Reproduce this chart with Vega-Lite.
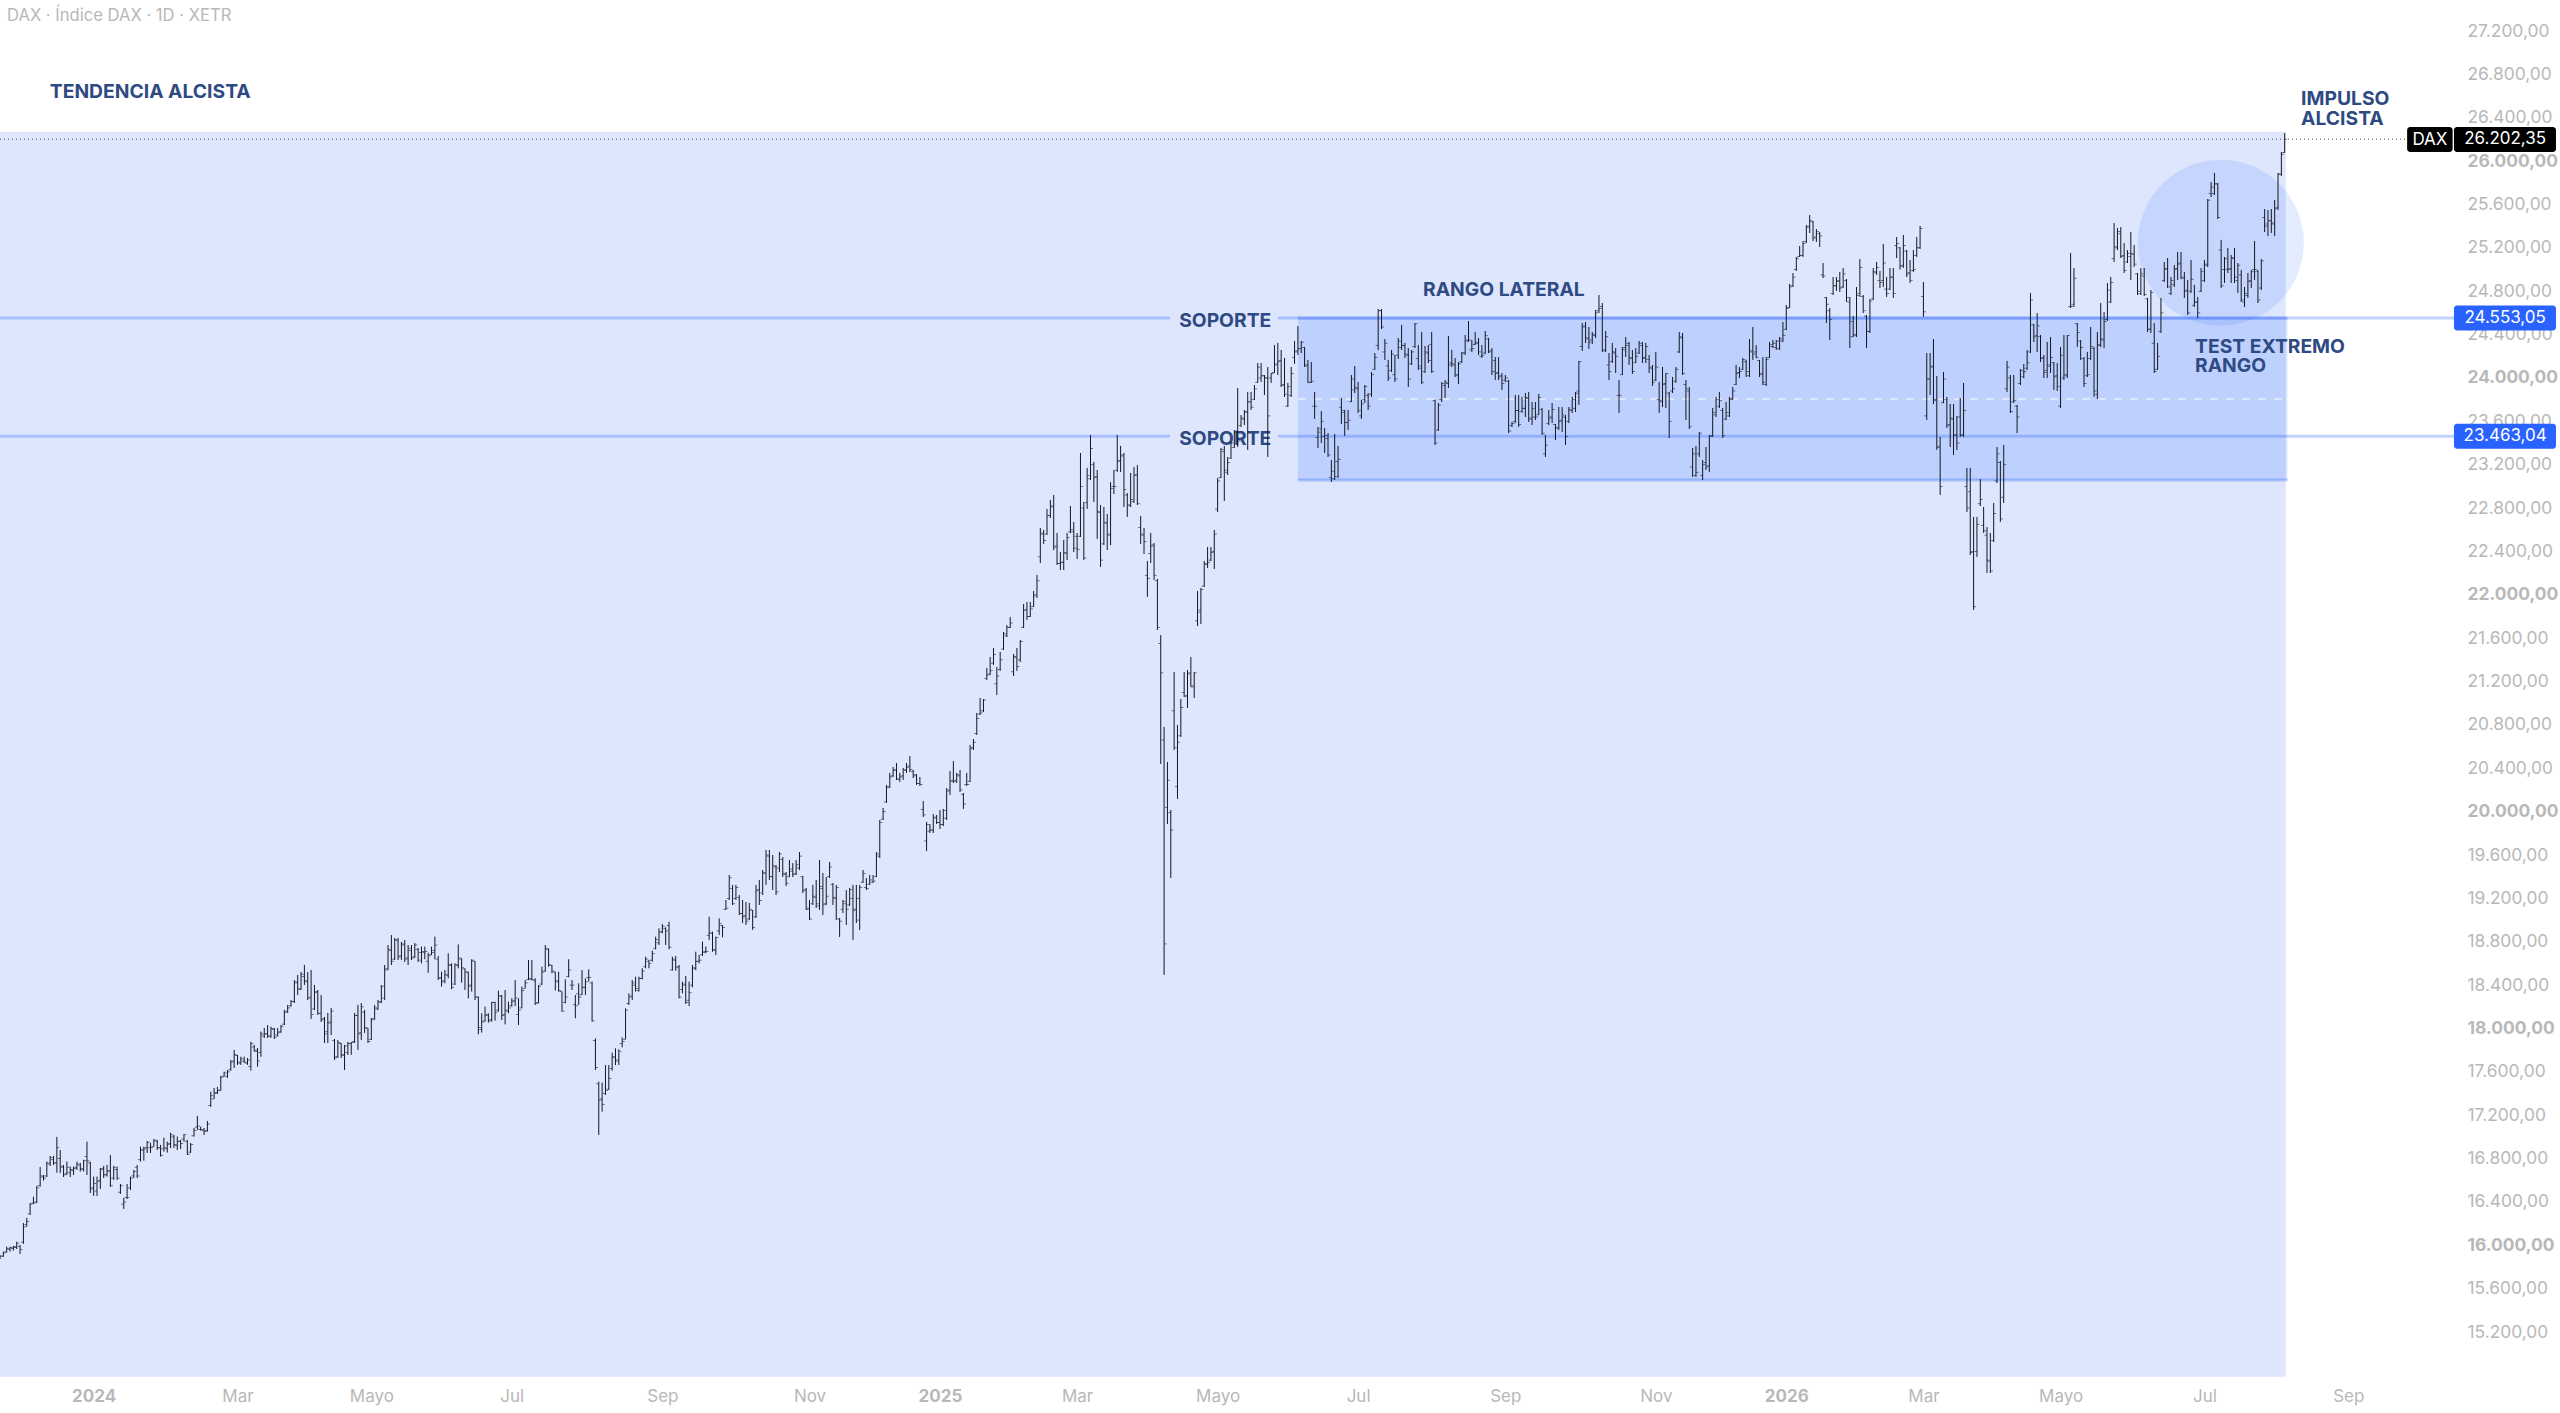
{"$schema":"https://vega.github.io/schema/vega-lite/v6.json","width":2560,"height":1375,"autosize":{"type":"none"},"padding":{"left":0,"top":0,"right":0,"bottom":38},"background":"#ffffff","config":{"view":{"stroke":null},"font":"Inter"},
"datasets":{
"zone":[{"i":-2,"i2":683.3,"p":14788,"p2":26270}],
"range":[{"i":388,"i2":683.8,"p":23059,"p2":24553}],
"borders":[{"i":388,"i2":683.8,"p":24553},{"i":388,"i2":683.8,"p":23059}],
"supports":[{"i":0,"i2":349.8,"p":24553},{"i":382,"i2":733.6,"p":24553},{"i":0,"i2":349.8,"p":23463},{"i":382,"i2":733.6,"p":23463}],
"mid":[{"i":388,"i2":683,"p":23806}],
"last":[{"i":0,"i2":719.6,"p":26202}],
"circle":[{"i":663.9,"p":25248}],
"notes":[{"i":14.9,"p":26637,"t":"TENDENCIA ALCISTA"},{"i":687.9,"p":26573,"t":"IMPULSO"},{"i":687.9,"p":26393,"t":"ALCISTA"},{"i":352.5,"p":24524,"t":"SOPORTE"},{"i":352.5,"p":23436,"t":"SOPORTE"},{"i":425.4,"p":24811,"t":"RANGO LATERAL"},{"i":656.2,"p":24286,"t":"TEST EXTREMO"},{"i":656.2,"p":24110,"t":"RANGO"}],
"head":[{"i":2.1,"p":27338,"t":"DAX · Índice DAX · 1D · XETR"}],
"blacktags":[{"i":719.6,"i2":733.2,"p":26084,"p2":26315},{"i":733.6,"i2":764.1,"p":26084,"p2":26315}],
"bluetags":[{"i":733.6,"i2":764.1,"p":24438,"p2":24668},{"i":733.6,"i2":764.1,"p":23348,"p2":23578}],
"tagtext":[{"i":726.4,"p":26195,"t":"DAX"},{"i":748.9,"p":26202,"t":"26.202,35"},{"i":748.9,"p":24553,"t":"24.553,05"},{"i":748.9,"p":23463,"t":"23.463,04"}],
"bars":[
{"i":0,"o":15880,"h":15911,"l":15874,"c":15900},{"i":1,"o":15900,"h":15942,"l":15893,"c":15930},{"i":2,"o":15940,"h":15988,"l":15932,"c":15970},{"i":3,"o":15960,"h":15988,"l":15942,"c":15980},{"i":4,"o":15970,"h":15994,"l":15951,"c":15990},{"i":5,"o":15980,"h":16034,"l":15966,"c":16020},{"i":6,"o":15990,"h":16003,"l":15920,"c":15960},{"i":7,"o":16030,"h":16206,"l":16013,"c":16170},{"i":8,"o":16190,"h":16253,"l":16172,"c":16220},{"i":9,"o":16290,"h":16390,"l":16280,"c":16380},{"i":10,"o":16390,"h":16449,"l":16382,"c":16390},{"i":11,"o":16400,"h":16548,"l":16390,"c":16530},{"i":12,"o":16550,"h":16722,"l":16541,"c":16640},{"i":13,"o":16630,"h":16649,"l":16597,"c":16620},{"i":14,"o":16640,"h":16772,"l":16630,"c":16760},{"i":15,"o":16750,"h":16824,"l":16732,"c":16810},{"i":16,"o":16790,"h":16824,"l":16741,"c":16760},{"i":17,"o":16760,"h":17000,"l":16670,"c":16900},{"i":18,"o":16800,"h":16879,"l":16667,"c":16730},{"i":19,"o":16720,"h":16741,"l":16630,"c":16650},{"i":20,"o":16660,"h":16772,"l":16649,"c":16720},{"i":21,"o":16670,"h":16726,"l":16630,"c":16700},{"i":22,"o":16690,"h":16726,"l":16649,"c":16710},{"i":23,"o":16720,"h":16772,"l":16695,"c":16750},{"i":24,"o":16740,"h":16760,"l":16680,"c":16710},{"i":25,"o":16700,"h":16788,"l":16680,"c":16780},{"i":26,"o":16820,"h":16956,"l":16649,"c":16780},{"i":27,"o":16760,"h":16772,"l":16483,"c":16520},{"i":28,"o":16530,"h":16634,"l":16456,"c":16570},{"i":29,"o":16500,"h":16634,"l":16456,"c":16590},{"i":30,"o":16600,"h":16713,"l":16520,"c":16700},{"i":31,"o":16710,"h":16732,"l":16621,"c":16650},{"i":32,"o":16650,"h":16741,"l":16634,"c":16680},{"i":33,"o":16690,"h":16833,"l":16539,"c":16550},{"i":34,"o":16620,"h":16732,"l":16603,"c":16720},{"i":35,"o":16700,"h":16726,"l":16603,"c":16620},{"i":36,"o":16490,"h":16566,"l":16474,"c":16550},{"i":37,"o":16380,"h":16437,"l":16335,"c":16400},{"i":38,"o":16440,"h":16566,"l":16428,"c":16440},{"i":39,"o":16530,"h":16634,"l":16510,"c":16620},{"i":40,"o":16640,"h":16695,"l":16621,"c":16680},{"i":41,"o":16720,"h":16741,"l":16621,"c":16640},{"i":42,"o":16790,"h":16910,"l":16772,"c":16880},{"i":43,"o":16880,"h":16910,"l":16781,"c":16890},{"i":44,"o":16900,"h":16963,"l":16852,"c":16950},{"i":45,"o":16900,"h":16944,"l":16852,"c":16900},{"i":46,"o":16910,"h":16981,"l":16910,"c":16970},{"i":47,"o":16960,"h":16972,"l":16879,"c":16900},{"i":48,"o":16900,"h":16926,"l":16818,"c":16830},{"i":49,"o":16890,"h":16993,"l":16864,"c":16900},{"i":50,"o":16890,"h":16956,"l":16855,"c":16930},{"i":51,"o":16940,"h":17039,"l":16898,"c":17020},{"i":52,"o":17000,"h":17018,"l":16898,"c":16930},{"i":53,"o":16920,"h":17003,"l":16879,"c":16960},{"i":54,"o":16960,"h":16972,"l":16889,"c":16940},{"i":55,"o":16980,"h":17027,"l":16956,"c":17020},{"i":56,"o":16960,"h":16972,"l":16833,"c":16840},{"i":57,"o":16860,"h":16944,"l":16852,"c":16930},{"i":58,"o":17010,"h":17082,"l":17003,"c":17060},{"i":59,"o":17090,"h":17193,"l":17064,"c":17100},{"i":60,"o":17070,"h":17095,"l":17058,"c":17070},{"i":61,"o":17060,"h":17082,"l":17018,"c":17050},{"i":62,"o":17060,"h":17147,"l":17049,"c":17120},{"i":63,"o":17290,"h":17417,"l":17276,"c":17380},{"i":64,"o":17350,"h":17452,"l":17350,"c":17400},{"i":65,"o":17410,"h":17461,"l":17396,"c":17430},{"i":66,"o":17430,"h":17562,"l":17427,"c":17550},{"i":67,"o":17560,"h":17602,"l":17556,"c":17590},{"i":68,"o":17560,"h":17617,"l":17544,"c":17600},{"i":69,"o":17620,"h":17710,"l":17611,"c":17690},{"i":70,"o":17700,"h":17802,"l":17636,"c":17760},{"i":71,"o":17750,"h":17756,"l":17664,"c":17690},{"i":72,"o":17680,"h":17740,"l":17664,"c":17720},{"i":73,"o":17700,"h":17740,"l":17682,"c":17690},{"i":74,"o":17680,"h":17728,"l":17664,"c":17710},{"i":75,"o":17650,"h":17878,"l":17611,"c":17860},{"i":76,"o":17830,"h":17848,"l":17786,"c":17800},{"i":77,"o":17790,"h":17820,"l":17648,"c":17700},{"i":78,"o":17780,"h":17971,"l":17740,"c":17950},{"i":79,"o":17930,"h":18005,"l":17913,"c":17950},{"i":80,"o":17950,"h":18032,"l":17913,"c":17930},{"i":81,"o":17930,"h":18017,"l":17913,"c":18000},{"i":82,"o":17990,"h":18005,"l":17903,"c":17920},{"i":83,"o":17940,"h":18005,"l":17925,"c":17960},{"i":84,"o":17970,"h":18032,"l":17959,"c":18020},{"i":85,"o":18040,"h":18171,"l":18032,"c":18150},{"i":86,"o":18160,"h":18217,"l":18143,"c":18190},{"i":87,"o":18210,"h":18263,"l":18201,"c":18250},{"i":88,"o":18250,"h":18447,"l":18235,"c":18430},{"i":89,"o":18420,"h":18494,"l":18309,"c":18370},{"i":90,"o":18360,"h":18521,"l":18355,"c":18500},{"i":91,"o":18480,"h":18586,"l":18401,"c":18440},{"i":92,"o":18430,"h":18521,"l":18263,"c":18280},{"i":93,"o":18290,"h":18540,"l":18088,"c":18130},{"i":94,"o":18180,"h":18401,"l":18171,"c":18330},{"i":95,"o":18340,"h":18355,"l":18125,"c":18140},{"i":96,"o":18140,"h":18309,"l":18060,"c":18080},{"i":97,"o":18090,"h":18106,"l":17866,"c":17950},{"i":98,"o":17970,"h":18143,"l":17866,"c":18050},{"i":99,"o":18060,"h":18189,"l":17940,"c":18160},{"i":100,"o":17890,"h":17903,"l":17710,"c":17730},{"i":101,"o":17740,"h":17894,"l":17728,"c":17870},{"i":102,"o":17860,"h":17866,"l":17728,"c":17750},{"i":103,"o":17760,"h":17848,"l":17617,"c":17840},{"i":104,"o":17780,"h":17876,"l":17756,"c":17860},{"i":105,"o":17860,"h":17876,"l":17756,"c":17870},{"i":106,"o":17880,"h":18143,"l":17866,"c":18120},{"i":107,"o":18120,"h":18217,"l":17802,"c":17950},{"i":108,"o":17960,"h":18235,"l":17894,"c":18200},{"i":109,"o":18150,"h":18171,"l":17959,"c":18010},{"i":110,"o":18000,"h":18005,"l":17866,"c":17880},{"i":111,"o":17900,"h":18097,"l":17894,"c":18080},{"i":112,"o":18090,"h":18217,"l":18080,"c":18190},{"i":113,"o":18180,"h":18263,"l":18171,"c":18250},{"i":114,"o":18240,"h":18401,"l":18235,"c":18390},{"i":115,"o":18280,"h":18586,"l":18263,"c":18550},{"i":116,"o":18540,"h":18770,"l":18540,"c":18730},{"i":117,"o":18720,"h":18862,"l":18586,"c":18620},{"i":118,"o":18640,"h":18835,"l":18632,"c":18820},{"i":119,"o":18810,"h":18835,"l":18632,"c":18660},{"i":120,"o":18670,"h":18798,"l":18632,"c":18780},{"i":121,"o":18770,"h":18816,"l":18613,"c":18640},{"i":122,"o":18650,"h":18770,"l":18586,"c":18740},{"i":123,"o":18720,"h":18770,"l":18632,"c":18650},{"i":124,"o":18660,"h":18788,"l":18650,"c":18770},{"i":125,"o":18730,"h":18743,"l":18613,"c":18630},
{"i":126,"o":18700,"h":18755,"l":18600,"c":18710},{"i":127,"o":18700,"h":18755,"l":18638,"c":18710},{"i":128,"o":18620,"h":18699,"l":18515,"c":18670},{"i":129,"o":18680,"h":18755,"l":18678,"c":18700},{"i":130,"o":18720,"h":18847,"l":18638,"c":18770},{"i":131,"o":18640,"h":18669,"l":18447,"c":18460},{"i":132,"o":18470,"h":18524,"l":18386,"c":18430},{"i":133,"o":18440,"h":18540,"l":18417,"c":18500},{"i":134,"o":18490,"h":18693,"l":18463,"c":18590},{"i":135,"o":18580,"h":18601,"l":18361,"c":18380},{"i":136,"o":18410,"h":18601,"l":18401,"c":18590},{"i":137,"o":18580,"h":18776,"l":18555,"c":18650},{"i":138,"o":18640,"h":18647,"l":18423,"c":18560},{"i":139,"o":18550,"h":18555,"l":18355,"c":18520},{"i":140,"o":18520,"h":18524,"l":18278,"c":18390},{"i":141,"o":18400,"h":18638,"l":18340,"c":18630},{"i":142,"o":18620,"h":18622,"l":18263,"c":18290},{"i":143,"o":18290,"h":18294,"l":17946,"c":18010},{"i":144,"o":17990,"h":18140,"l":17962,"c":18060},{"i":145,"o":18070,"h":18201,"l":18063,"c":18120},{"i":146,"o":18130,"h":18140,"l":18054,"c":18070},{"i":147,"o":18080,"h":18247,"l":18063,"c":18240},{"i":148,"o":18240,"h":18247,"l":18072,"c":18150},{"i":149,"o":18170,"h":18349,"l":18155,"c":18300},{"i":150,"o":18300,"h":18309,"l":18078,"c":18120},{"i":151,"o":18130,"h":18355,"l":18038,"c":18170},{"i":152,"o":18160,"h":18247,"l":18140,"c":18190},{"i":153,"o":18210,"h":18278,"l":18201,"c":18250},{"i":154,"o":18260,"h":18447,"l":18207,"c":18280},{"i":155,"o":18130,"h":18278,"l":18032,"c":18170},{"i":156,"o":18190,"h":18386,"l":18186,"c":18350},{"i":157,"o":18370,"h":18447,"l":18370,"c":18420},{"i":158,"o":18450,"h":18632,"l":18447,"c":18460},{"i":159,"o":18450,"h":18632,"l":18447,"c":18450},{"i":160,"o":18440,"h":18463,"l":18217,"c":18230},{"i":161,"o":18240,"h":18401,"l":18232,"c":18390},{"i":162,"o":18410,"h":18570,"l":18401,"c":18520},{"i":163,"o":18530,"h":18770,"l":18524,"c":18740},{"i":164,"o":18730,"h":18739,"l":18570,"c":18590},{"i":165,"o":18580,"h":18586,"l":18509,"c":18530},{"i":166,"o":18520,"h":18524,"l":18349,"c":18440},{"i":167,"o":18430,"h":18524,"l":18340,"c":18350},{"i":168,"o":18340,"h":18340,"l":18155,"c":18160},{"i":169,"o":18240,"h":18453,"l":18232,"c":18290},{"i":170,"o":18480,"h":18638,"l":18472,"c":18540},{"i":171,"o":18400,"h":18447,"l":18355,"c":18400},{"i":172,"o":18220,"h":18309,"l":18094,"c":18210},{"i":173,"o":18320,"h":18417,"l":18217,"c":18290},{"i":174,"o":18310,"h":18539,"l":18309,"c":18380},{"i":175,"o":18380,"h":18463,"l":18309,"c":18430},{"i":176,"o":18470,"h":18546,"l":18432,"c":18470},{"i":177,"o":18420,"h":18432,"l":18063,"c":18070},
{"i":178,"o":17890,"h":17909,"l":17617,"c":17640},{"i":179,"o":17490,"h":17510,"l":17018,"c":17340},{"i":180,"o":17350,"h":17500,"l":17233,"c":17300},{"i":181,"o":17400,"h":17663,"l":17387,"c":17430},{"i":182,"o":17440,"h":17663,"l":17433,"c":17540},{"i":183,"o":17630,"h":17777,"l":17611,"c":17740},{"i":184,"o":17730,"h":17817,"l":17663,"c":17700},{"i":185,"o":17710,"h":17808,"l":17663,"c":17790},{"i":186,"o":17860,"h":17919,"l":17826,"c":17880},{"i":187,"o":17900,"h":18186,"l":17900,"c":18170},{"i":188,"o":18230,"h":18324,"l":18217,"c":18290},{"i":189,"o":18300,"h":18447,"l":18263,"c":18420},{"i":190,"o":18400,"h":18478,"l":18340,"c":18370},{"i":191,"o":18350,"h":18478,"l":18340,"c":18460},{"i":192,"o":18460,"h":18555,"l":18453,"c":18530},{"i":193,"o":18570,"h":18662,"l":18555,"c":18640},{"i":194,"o":18620,"h":18632,"l":18555,"c":18600},{"i":195,"o":18630,"h":18718,"l":18616,"c":18690},{"i":196,"o":18740,"h":18847,"l":18730,"c":18820},{"i":197,"o":18790,"h":18924,"l":18770,"c":18890},{"i":198,"o":18890,"h":18964,"l":18878,"c":18940},{"i":199,"o":18920,"h":18933,"l":18770,"c":18900},{"i":200,"o":18950,"h":18985,"l":18730,"c":18750},{"i":201,"o":18540,"h":18662,"l":18533,"c":18640},{"i":202,"o":18630,"h":18669,"l":18533,"c":18560},{"i":203,"o":18570,"h":18586,"l":18278,"c":18290},{"i":204,"o":18360,"h":18432,"l":18324,"c":18410},{"i":205,"o":18400,"h":18484,"l":18226,"c":18240},{"i":206,"o":18260,"h":18432,"l":18207,"c":18330},{"i":207,"o":18400,"h":18586,"l":18380,"c":18560},{"i":208,"o":18550,"h":18708,"l":18539,"c":18620},{"i":209,"o":18620,"h":18678,"l":18601,"c":18630},{"i":210,"o":18680,"h":18801,"l":18669,"c":18700},{"i":211,"o":18710,"h":18755,"l":18693,"c":18710},{"i":212,"o":18860,"h":19031,"l":18816,"c":18880},{"i":213,"o":18880,"h":18893,"l":18708,"c":18730},{"i":214,"o":18720,"h":18847,"l":18678,"c":18840},{"i":215,"o":18900,"h":19016,"l":18862,"c":18970},{"i":216,"o":18950,"h":18954,"l":18841,"c":18930},{"i":217,"o":19100,"h":19185,"l":19093,"c":19110},
{"i":218,"o":19200,"h":19416,"l":19185,"c":19390},{"i":219,"o":19290,"h":19324,"l":19139,"c":19150},{"i":220,"o":19200,"h":19324,"l":19185,"c":19300},{"i":221,"o":19210,"h":19231,"l":19047,"c":19060},{"i":222,"o":19060,"h":19185,"l":18973,"c":19030},{"i":223,"o":19040,"h":19167,"l":18955,"c":18990},{"i":224,"o":19010,"h":19158,"l":19001,"c":19100},{"i":225,"o":19090,"h":19093,"l":18909,"c":18930},{"i":226,"o":19030,"h":19324,"l":19019,"c":19270},{"i":227,"o":19280,"h":19370,"l":19139,"c":19180},{"i":228,"o":19250,"h":19462,"l":19231,"c":19440},{"i":229,"o":19430,"h":19647,"l":19324,"c":19600},{"i":230,"o":19590,"h":19647,"l":19370,"c":19400},{"i":231,"o":19400,"h":19600,"l":19277,"c":19500},{"i":232,"o":19490,"h":19508,"l":19231,"c":19260},{"i":233,"o":19480,"h":19628,"l":19443,"c":19610},{"i":234,"o":19560,"h":19582,"l":19397,"c":19430},{"i":235,"o":19420,"h":19443,"l":19314,"c":19340},{"i":236,"o":19400,"h":19554,"l":19397,"c":19470},{"i":237,"o":19450,"h":19526,"l":19397,"c":19420},{"i":238,"o":19430,"h":19554,"l":19416,"c":19510},{"i":239,"o":19480,"h":19628,"l":19462,"c":19590},{"i":240,"o":19400,"h":19407,"l":19250,"c":19270},{"i":241,"o":19280,"h":19296,"l":19093,"c":19100},{"i":242,"o":19110,"h":19185,"l":19001,"c":19010},{"i":243,"o":19150,"h":19324,"l":19139,"c":19220},{"i":244,"o":19210,"h":19370,"l":19112,"c":19150},{"i":245,"o":19130,"h":19554,"l":19093,"c":19310},{"i":246,"o":19290,"h":19434,"l":19047,"c":19140},{"i":247,"o":19150,"h":19397,"l":19139,"c":19220},{"i":248,"o":19400,"h":19536,"l":19388,"c":19490},{"i":249,"o":19330,"h":19342,"l":19139,"c":19210},{"i":250,"o":19200,"h":19324,"l":19001,"c":19300},{"i":251,"o":19010,"h":19019,"l":18844,"c":18990},{"i":252,"o":19100,"h":19185,"l":19065,"c":19170},{"i":253,"o":19150,"h":19277,"l":18955,"c":19100},{"i":254,"o":19140,"h":19296,"l":19130,"c":19280},{"i":255,"o":19200,"h":19324,"l":18816,"c":19090},{"i":256,"o":19100,"h":19324,"l":18973,"c":19200},{"i":257,"o":19000,"h":19324,"l":18909,"c":19300},{"i":258,"o":19350,"h":19462,"l":19342,"c":19430},{"i":259,"o":19300,"h":19388,"l":19277,"c":19290},{"i":260,"o":19330,"h":19416,"l":19324,"c":19370},{"i":261,"o":19350,"h":19416,"l":19342,"c":19360},{"i":262,"o":19400,"h":19628,"l":19397,"c":19610},{"i":263,"o":19590,"h":19923,"l":19573,"c":19900},{"i":264,"o":19930,"h":20034,"l":19923,"c":20000},{"i":265,"o":20090,"h":20246,"l":20080,"c":20220},{"i":266,"o":20230,"h":20357,"l":20218,"c":20320},{"i":267,"o":20330,"h":20412,"l":20320,"c":20380},{"i":268,"o":20390,"h":20449,"l":20292,"c":20300},{"i":269,"o":20300,"h":20357,"l":20274,"c":20320},{"i":270,"o":20330,"h":20403,"l":20292,"c":20390},{"i":271,"o":20380,"h":20449,"l":20357,"c":20410},{"i":272,"o":20420,"h":20513,"l":20366,"c":20390},{"i":273,"o":20370,"h":20384,"l":20310,"c":20330},{"i":274,"o":20340,"h":20347,"l":20246,"c":20260},{"i":275,"o":20260,"h":20320,"l":20237,"c":20250},{"i":276,"o":20020,"h":20098,"l":19951,"c":19970},{"i":277,"o":19730,"h":19905,"l":19637,"c":19880},{"i":278,"o":19820,"h":19886,"l":19803,"c":19830},{"i":279,"o":19830,"h":19978,"l":19803,"c":19950},{"i":280,"o":19940,"h":19969,"l":19886,"c":19900},{"i":281,"o":19900,"h":20015,"l":19840,"c":19880},{"i":282,"o":19880,"h":20025,"l":19868,"c":20010},{"i":283,"o":19940,"h":20218,"l":19923,"c":20190},{"i":284,"o":20200,"h":20375,"l":20154,"c":20280},{"i":285,"o":20290,"h":20467,"l":20264,"c":20280},{"i":286,"o":20290,"h":20357,"l":20264,"c":20340},{"i":287,"o":20330,"h":20384,"l":20181,"c":20200},{"i":288,"o":20160,"h":20172,"l":20025,"c":20070},{"i":289,"o":20250,"h":20357,"l":20237,"c":20250},{"i":290,"o":20280,"h":20615,"l":20274,"c":20580},{"i":291,"o":20590,"h":20670,"l":20569,"c":20640},{"i":292,"o":20720,"h":20910,"l":20707,"c":20860},{"i":293,"o":20900,"h":21048,"l":20891,"c":20910},{"i":294,"o":20930,"h":21039,"l":20919,"c":21030},{"i":295,"o":21230,"h":21325,"l":21214,"c":21260},{"i":296,"o":21270,"h":21426,"l":21260,"c":21300},{"i":297,"o":21370,"h":21509,"l":21353,"c":21450},{"i":298,"o":21180,"h":21334,"l":21076,"c":21250},{"i":299,"o":21310,"h":21473,"l":21298,"c":21400},{"i":300,"o":21500,"h":21657,"l":21491,"c":21640},{"i":301,"o":21620,"h":21722,"l":21611,"c":21700},{"i":302,"o":21700,"h":21795,"l":21694,"c":21740},{"i":303,"o":21290,"h":21454,"l":21251,"c":21430},{"i":304,"o":21420,"h":21509,"l":21298,"c":21340},{"i":305,"o":21400,"h":21583,"l":21380,"c":21570},{"i":306,"o":21700,"h":21915,"l":21694,"c":21860},{"i":307,"o":21860,"h":21934,"l":21768,"c":21800},{"i":308,"o":21800,"h":21934,"l":21795,"c":21870},{"i":309,"o":21890,"h":22035,"l":21888,"c":21990},{"i":310,"o":22000,"h":22183,"l":21971,"c":22130},{"i":311,"o":22350,"h":22616,"l":22293,"c":22570},{"i":312,"o":22560,"h":22598,"l":22469,"c":22500},{"i":313,"o":22560,"h":22792,"l":22552,"c":22730},{"i":314,"o":22730,"h":22875,"l":22708,"c":22810},{"i":315,"o":22820,"h":22921,"l":22413,"c":22440},{"i":316,"o":22450,"h":22570,"l":22275,"c":22290},{"i":317,"o":22290,"h":22395,"l":22229,"c":22300},{"i":318,"o":22300,"h":22506,"l":22229,"c":22390},{"i":319,"o":22380,"h":22570,"l":22321,"c":22530},{"i":320,"o":22580,"h":22819,"l":22570,"c":22600},{"i":321,"o":22580,"h":22672,"l":22395,"c":22430},{"i":322,"o":22540,"h":22570,"l":22330,"c":22420},{"i":323,"o":22540,"h":23308,"l":22533,"c":23000},{"i":324,"o":22800,"h":22856,"l":22321,"c":22340},{"i":325,"o":22850,"h":23170,"l":22792,"c":23100},{"i":326,"o":23070,"h":23474,"l":23059,"c":23350},{"i":327,"o":23200,"h":23225,"l":22856,"c":23080},{"i":328,"o":23090,"h":23151,"l":22515,"c":22770},{"i":329,"o":22760,"h":22828,"l":22257,"c":22320},{"i":330,"o":22470,"h":22810,"l":22459,"c":22670},{"i":331,"o":22660,"h":22745,"l":22413,"c":22560},{"i":332,"o":22550,"h":23040,"l":22459,"c":22980},{"i":333,"o":23000,"h":23151,"l":22930,"c":23000},{"i":334,"o":23150,"h":23474,"l":23133,"c":23230},{"i":335,"o":23240,"h":23373,"l":23133,"c":23280},{"i":336,"o":23290,"h":23308,"l":22810,"c":22970},{"i":337,"o":22920,"h":22939,"l":22718,"c":22830},{"i":338,"o":22820,"h":23124,"l":22810,"c":22880},{"i":339,"o":22860,"h":23179,"l":22847,"c":23100},{"i":340,"o":23110,"h":23197,"l":22828,"c":22840},{"i":341,"o":22620,"h":22727,"l":22469,"c":22560},{"i":342,"o":22550,"h":22616,"l":22377,"c":22490},{"i":343,"o":22180,"h":22312,"l":21980,"c":22150},{"i":344,"o":22380,"h":22570,"l":22293,"c":22450},{"i":345,"o":22460,"h":22478,"l":22137,"c":22180},{"i":346,"o":22130,"h":22146,"l":21676,"c":21700},{"i":347,"o":21550,"h":21629,"l":20440,"c":21280},{"i":348,"o":20660,"h":20781,"l":18494,"c":18780},{"i":349,"o":20040,"h":20458,"l":19886,"c":20290},{"i":350,"o":19990,"h":20015,"l":19388,"c":19830},{"i":351,"o":20930,"h":21288,"l":20569,"c":20590},{"i":352,"o":20230,"h":20799,"l":20117,"c":20640},{"i":353,"o":20700,"h":21039,"l":20689,"c":20960},{"i":354,"o":21100,"h":21288,"l":21058,"c":21060},{"i":355,"o":21070,"h":21306,"l":20956,"c":21270},{"i":356,"o":21280,"h":21426,"l":21150,"c":21150},{"i":357,"o":21160,"h":21288,"l":21048,"c":21280},{"i":358,"o":21760,"h":22035,"l":21712,"c":21840},{"i":359,"o":21860,"h":22063,"l":21731,"c":22050},{"i":360,"o":22080,"h":22312,"l":22072,"c":22290},{"i":361,"o":22280,"h":22441,"l":22247,"c":22300},{"i":362,"o":22320,"h":22441,"l":22312,"c":22390},{"i":363,"o":22400,"h":22598,"l":22238,"c":22560},{"i":364,"o":22790,"h":23077,"l":22764,"c":23050},{"i":365,"o":23080,"h":23354,"l":23077,"c":23340},{"i":366,"o":23320,"h":23373,"l":22865,"c":23150},{"i":367,"o":23130,"h":23271,"l":23105,"c":23220},{"i":368,"o":23260,"h":23409,"l":23253,"c":23400},{"i":369,"o":23360,"h":23520,"l":23354,"c":23510},{"i":370,"o":23500,"h":23907,"l":23363,"c":23420},{"i":371,"o":23560,"h":23658,"l":23548,"c":23630},{"i":372,"o":23620,"h":23705,"l":23566,"c":23690},{"i":373,"o":23680,"h":23871,"l":23336,"c":23780},{"i":374,"o":23780,"h":23871,"l":23705,"c":23730},{"i":375,"o":23800,"h":23935,"l":23797,"c":23900},{"i":376,"o":23960,"h":24138,"l":23954,"c":24100},{"i":377,"o":24000,"h":24138,"l":23963,"c":24020},{"i":378,"o":24020,"h":24027,"l":23843,"c":24000},{"i":379,"o":24000,"h":24101,"l":23271,"c":23650},{"i":380,"o":24000,"h":24046,"l":23954,"c":24040},{"i":381,"o":24050,"h":24304,"l":24046,"c":24120},{"i":382,"o":24130,"h":24323,"l":24027,"c":24150},{"i":383,"o":24160,"h":24258,"l":23917,"c":23930},{"i":384,"o":23940,"h":24184,"l":23825,"c":23850},{"i":385,"o":23740,"h":23954,"l":23732,"c":23920},{"i":386,"o":23840,"h":24101,"l":23825,"c":24040},{"i":387,"o":24190,"h":24341,"l":24129,"c":24240},{"i":388,"o":24250,"h":24479,"l":24212,"c":24270},{"i":389,"o":24270,"h":24341,"l":24230,"c":24330},{"i":390,"o":24280,"h":24286,"l":24101,"c":24120},{"i":391,"o":24110,"h":24166,"l":23954,"c":23960},{"i":392,"o":23960,"h":24147,"l":23954,"c":23970},{"i":393,"o":23740,"h":23871,"l":23622,"c":23740},{"i":394,"o":23450,"h":23548,"l":23354,"c":23500},{"i":395,"o":23530,"h":23695,"l":23400,"c":23600},{"i":396,"o":23460,"h":23539,"l":23308,"c":23470},{"i":397,"o":23440,"h":23492,"l":23271,"c":23290},{"i":398,"o":23080,"h":23243,"l":23040,"c":23140},{"i":399,"o":23070,"h":23483,"l":23059,"c":23090},{"i":400,"o":23230,"h":23373,"l":23077,"c":23250},{"i":401,"o":23730,"h":23815,"l":23575,"c":23680},{"i":402,"o":23700,"h":23705,"l":23465,"c":23590},{"i":403,"o":23590,"h":23705,"l":23520,"c":23610},{"i":404,"o":23780,"h":24027,"l":23778,"c":23990},{"i":405,"o":23890,"h":24110,"l":23861,"c":23910},{"i":406,"o":23900,"h":23963,"l":23677,"c":23700},{"i":407,"o":23650,"h":23797,"l":23622,"c":23760},{"i":408,"o":23800,"h":23935,"l":23769,"c":23920},{"i":409,"o":23840,"h":23861,"l":23705,"c":23740},{"i":410,"o":23850,"h":24055,"l":23825,"c":24030},{"i":411,"o":24080,"h":24230,"l":24074,"c":24190},{"i":412,"o":24300,"h":24636,"l":24258,"c":24620},{"i":413,"o":24620,"h":24636,"l":24452,"c":24470},{"i":414,"o":24240,"h":24359,"l":24166,"c":24320},{"i":415,"o":24110,"h":24166,"l":23972,"c":24000},{"i":416,"o":24070,"h":24258,"l":24055,"c":24220},{"i":417,"o":24030,"h":24212,"l":23963,"c":23990},{"i":418,"o":24210,"h":24369,"l":24175,"c":24340},{"i":419,"o":24280,"h":24489,"l":24258,"c":24300},{"i":420,"o":24300,"h":24323,"l":24184,"c":24220},{"i":421,"o":24210,"h":24276,"l":23917,"c":23990},{"i":422,"o":24130,"h":24258,"l":24120,"c":24240},{"i":423,"o":24290,"h":24507,"l":24276,"c":24500},{"i":424,"o":24180,"h":24304,"l":24074,"c":24090},{"i":425,"o":24110,"h":24424,"l":23944,"c":23960},{"i":426,"o":24060,"h":24295,"l":24046,"c":24240},{"i":427,"o":24230,"h":24304,"l":24138,"c":24160},{"i":428,"o":24310,"h":24424,"l":24046,"c":24060},{"i":429,"o":23790,"h":23797,"l":23382,"c":23400},{"i":430,"o":23520,"h":23769,"l":23511,"c":23750},{"i":431,"o":23800,"h":23963,"l":23778,"c":23950},{"i":432,"o":23930,"h":23981,"l":23815,"c":23960},{"i":433,"o":23950,"h":24387,"l":23907,"c":24120},{"i":434,"o":24140,"h":24258,"l":24101,"c":24130},{"i":435,"o":24120,"h":24184,"l":24009,"c":24020},{"i":436,"o":24030,"h":24147,"l":23944,"c":24130},{"i":437,"o":24150,"h":24239,"l":24138,"c":24230},{"i":438,"o":24230,"h":24396,"l":24212,"c":24340},{"i":439,"o":24350,"h":24525,"l":24332,"c":24350},{"i":440,"o":24260,"h":24350,"l":24239,"c":24270},{"i":441,"o":24310,"h":24424,"l":24304,"c":24320},{"i":442,"o":24330,"h":24369,"l":24212,"c":24240},{"i":443,"o":24200,"h":24304,"l":24184,"c":24210},{"i":444,"o":24230,"h":24433,"l":24221,"c":24390},{"i":445,"o":24360,"h":24369,"l":24230,"c":24240},{"i":446,"o":24250,"h":24276,"l":24027,"c":24060},{"i":447,"o":24160,"h":24193,"l":23981,"c":24040},{"i":448,"o":24050,"h":24193,"l":23981,"c":24010},{"i":449,"o":24020,"h":24046,"l":23889,"c":23950},{"i":450,"o":23980,"h":24027,"l":23963,"c":24000},{"i":451,"o":23970,"h":23981,"l":23492,"c":23510},{"i":452,"o":23560,"h":23594,"l":23548,"c":23580},{"i":453,"o":23600,"h":23843,"l":23585,"c":23700},{"i":454,"o":23700,"h":23843,"l":23548,"c":23570},{"i":455,"o":23690,"h":23825,"l":23677,"c":23720},{"i":456,"o":23720,"h":23861,"l":23640,"c":23820},{"i":457,"o":23810,"h":23871,"l":23594,"c":23620},{"i":458,"o":23630,"h":23778,"l":23566,"c":23720},{"i":459,"o":23640,"h":23778,"l":23612,"c":23640},{"i":460,"o":23660,"h":23852,"l":23658,"c":23820},{"i":461,"o":23710,"h":23723,"l":23474,"c":23490},{"i":462,"o":23300,"h":23474,"l":23271,"c":23380},{"i":463,"o":23580,"h":23705,"l":23566,"c":23630},{"i":464,"o":23640,"h":23769,"l":23585,"c":23710},{"i":465,"o":23570,"h":23575,"l":23428,"c":23540},{"i":466,"o":23540,"h":23732,"l":23520,"c":23600},{"i":467,"o":23610,"h":23732,"l":23502,"c":23660},{"i":468,"o":23640,"h":23658,"l":23382,"c":23460},{"i":469,"o":23600,"h":23732,"l":23585,"c":23710},{"i":470,"o":23700,"h":23825,"l":23677,"c":23800},{"i":471,"o":23720,"h":23871,"l":23686,"c":23860},{"i":472,"o":23880,"h":24157,"l":23751,"c":24150},{"i":473,"o":24290,"h":24507,"l":24249,"c":24470},{"i":474,"o":24480,"h":24516,"l":24323,"c":24370},{"i":475,"o":24360,"h":24470,"l":24267,"c":24330},{"i":476,"o":24350,"h":24424,"l":24313,"c":24400},{"i":477,"o":24390,"h":24627,"l":24369,"c":24600},{"i":478,"o":24620,"h":24765,"l":24599,"c":24640},{"i":479,"o":24660,"h":24691,"l":24240,"c":24250},{"i":480,"o":24260,"h":24433,"l":24240,"c":24380},{"i":481,"o":24120,"h":24230,"l":23981,"c":24060},{"i":482,"o":24150,"h":24323,"l":24138,"c":24240},{"i":483,"o":24230,"h":24276,"l":24046,"c":24200},{"i":484,"o":23840,"h":23981,"l":23677,"c":23840},{"i":485,"o":24030,"h":24286,"l":24027,"c":24260},{"i":486,"o":24280,"h":24378,"l":24193,"c":24300},{"i":487,"o":24320,"h":24332,"l":24120,"c":24190},{"i":488,"o":24180,"h":24258,"l":24037,"c":24060},{"i":489,"o":24140,"h":24276,"l":24138,"c":24200},{"i":490,"o":24230,"h":24341,"l":24221,"c":24320},{"i":491,"o":24300,"h":24332,"l":24138,"c":24190},{"i":492,"o":24180,"h":24323,"l":24138,"c":24290},{"i":493,"o":24170,"h":24212,"l":24046,"c":24100},{"i":494,"o":24090,"h":24120,"l":23926,"c":23960},{"i":495,"o":23980,"h":24239,"l":23972,"c":24100},{"i":496,"o":23800,"h":23963,"l":23677,"c":23790},{"i":497,"o":23780,"h":24101,"l":23732,"c":23940},{"i":498,"o":23950,"h":24046,"l":23723,"c":24040},{"i":499,"o":23860,"h":23871,"l":23446,"c":23600},{"i":500,"o":23880,"h":24009,"l":23861,"c":23900},{"i":501,"o":23970,"h":24101,"l":23954,"c":24080},{"i":502,"o":24240,"h":24424,"l":24230,"c":24380},{"i":503,"o":24370,"h":24415,"l":24027,"c":24040},{"i":504,"o":23940,"h":23981,"l":23612,"c":23900},{"i":505,"o":23880,"h":23917,"l":23529,"c":23550},{"i":506,"o":23180,"h":23354,"l":23087,"c":23300},{"i":507,"o":23100,"h":23373,"l":23087,"c":23130},{"i":508,"o":23300,"h":23502,"l":23271,"c":23490},{"i":509,"o":23100,"h":23243,"l":23059,"c":23200},{"i":510,"o":23220,"h":23363,"l":23151,"c":23180},{"i":511,"o":23190,"h":23474,"l":23133,"c":23460},{"i":512,"o":23470,"h":23723,"l":23456,"c":23680},{"i":513,"o":23660,"h":23825,"l":23640,"c":23800},{"i":514,"o":23740,"h":23871,"l":23723,"c":23790},{"i":515,"o":23700,"h":23723,"l":23446,"c":23470},{"i":516,"o":23620,"h":23778,"l":23612,"c":23680},{"i":517,"o":23650,"h":23825,"l":23640,"c":23800},{"i":518,"o":23810,"h":23917,"l":23797,"c":23880},{"i":519,"o":23940,"h":24120,"l":23935,"c":24040},{"i":520,"o":24050,"h":24101,"l":23999,"c":24060},{"i":521,"o":24080,"h":24184,"l":24074,"c":24170},{"i":522,"o":24150,"h":24166,"l":24009,"c":24060},{"i":523,"o":24020,"h":24359,"l":24009,"c":24240},{"i":524,"o":24250,"h":24470,"l":24166,"c":24220},{"i":525,"o":24240,"h":24304,"l":24184,"c":24190},{"i":526,"o":24160,"h":24166,"l":24009,"c":24030},{"i":527,"o":24040,"h":24193,"l":23935,"c":23960},{"i":528,"o":23940,"h":24193,"l":23926,"c":24170},{"i":529,"o":24190,"h":24332,"l":24184,"c":24310},{"i":530,"o":24290,"h":24350,"l":24276,"c":24320},{"i":531,"o":24280,"h":24350,"l":24258,"c":24340},{"i":532,"o":24270,"h":24378,"l":24258,"c":24360},{"i":533,"o":24340,"h":24516,"l":24332,"c":24390},{"i":534,"o":24450,"h":24673,"l":24442,"c":24640},{"i":535,"o":24650,"h":24867,"l":24645,"c":24840},{"i":536,"o":24850,"h":24968,"l":24839,"c":24930},{"i":537,"o":25000,"h":25116,"l":24987,"c":25100},{"i":538,"o":25120,"h":25217,"l":25116,"c":25130},{"i":539,"o":25130,"h":25263,"l":25116,"c":25240},{"i":540,"o":25260,"h":25411,"l":25245,"c":25390},{"i":541,"o":25400,"h":25503,"l":25337,"c":25450},{"i":542,"o":25440,"h":25448,"l":25263,"c":25290},{"i":543,"o":25300,"h":25374,"l":25254,"c":25350},{"i":544,"o":25330,"h":25346,"l":25208,"c":25310},{"i":545,"o":24950,"h":25060,"l":24922,"c":24940},{"i":546,"o":24740,"h":24747,"l":24507,"c":24680},{"i":547,"o":24620,"h":24645,"l":24350,"c":24540},{"i":548,"o":24780,"h":24931,"l":24765,"c":24850},{"i":549,"o":24850,"h":24931,"l":24802,"c":24890},{"i":550,"o":24900,"h":24978,"l":24793,"c":24830},{"i":551,"o":24840,"h":25014,"l":24830,"c":24960},{"i":552,"o":24900,"h":24913,"l":24701,"c":24740},{"i":553,"o":24700,"h":24747,"l":24276,"c":24520},{"i":554,"o":24380,"h":24572,"l":24378,"c":24390},{"i":555,"o":24400,"h":24839,"l":24378,"c":24760},{"i":556,"o":24780,"h":25097,"l":24747,"c":25020},{"i":557,"o":24750,"h":24765,"l":24599,"c":24620},{"i":558,"o":24570,"h":24581,"l":24276,"c":24430},{"i":559,"o":24430,"h":24728,"l":24415,"c":24710},{"i":560,"o":24730,"h":25014,"l":24719,"c":24980},{"i":561,"o":24970,"h":25070,"l":24950,"c":25020},{"i":562,"o":24900,"h":24987,"l":24830,"c":24880},{"i":563,"o":24900,"h":25236,"l":24839,"c":25060},{"i":564,"o":24820,"h":24931,"l":24747,"c":24780},{"i":565,"o":24820,"h":25014,"l":24811,"c":24930},{"i":566,"o":24930,"h":25014,"l":24738,"c":24780},{"i":567,"o":25220,"h":25300,"l":25106,"c":25240},{"i":568,"o":25200,"h":25208,"l":25000,"c":25030},{"i":569,"o":25040,"h":25319,"l":25014,"c":25220},{"i":570,"o":25170,"h":25180,"l":24931,"c":24960},{"i":571,"o":24970,"h":25088,"l":24876,"c":24900},{"i":572,"o":24990,"h":25180,"l":24978,"c":25000},{"i":573,"o":25130,"h":25300,"l":25116,"c":25200},{"i":574,"o":25200,"h":25402,"l":25190,"c":25380},{"i":575,"o":24750,"h":24885,"l":24563,"c":24610},{"i":576,"o":23650,"h":24230,"l":23612,"c":23990},{"i":577,"o":23990,"h":24230,"l":23843,"c":24110},{"i":578,"o":24100,"h":24359,"l":23760,"c":23790},{"i":579,"o":23800,"h":24018,"l":23336,"c":23360},{"i":580,"o":23370,"h":23456,"l":22921,"c":23000},{"i":581,"o":23770,"h":24055,"l":23769,"c":23990},{"i":582,"o":23800,"h":23825,"l":23539,"c":23560},{"i":583,"o":23570,"h":23760,"l":23363,"c":23630},{"i":584,"o":23620,"h":23760,"l":23289,"c":23470},{"i":585,"o":23480,"h":23649,"l":23336,"c":23400},{"i":586,"o":23640,"h":23815,"l":23456,"c":23470},{"i":587,"o":23480,"h":23954,"l":23456,"c":23700},{"i":588,"o":23000,"h":23170,"l":22764,"c":22800},{"i":589,"o":22950,"h":23170,"l":22367,"c":22390},{"i":590,"o":22400,"h":22718,"l":21860,"c":21890},{"i":591,"o":22400,"h":22718,"l":22349,"c":22650},{"i":592,"o":22840,"h":23068,"l":22819,"c":22880},{"i":593,"o":22640,"h":22810,"l":22570,"c":22590},{"i":594,"o":22550,"h":22625,"l":22201,"c":22320},{"i":595,"o":22310,"h":22570,"l":22201,"c":22220},{"i":596,"o":22500,"h":22847,"l":22487,"c":22750},{"i":597,"o":23050,"h":23363,"l":23031,"c":23300},{"i":598,"o":23220,"h":23234,"l":22672,"c":22700},{"i":599,"o":22900,"h":23382,"l":22847,"c":23200},{"i":600,"o":23900,"h":24157,"l":23871,"c":24100},{"i":601,"o":24000,"h":24027,"l":23677,"c":23690},{"i":602,"o":23780,"h":24027,"l":23769,"c":23790},{"i":603,"o":23740,"h":23751,"l":23492,"c":23640},{"i":604,"o":23950,"h":24083,"l":23935,"c":24070},{"i":605,"o":24010,"h":24129,"l":23999,"c":24060},{"i":606,"o":24090,"h":24258,"l":24074,"c":24140},{"i":607,"o":24240,"h":24783,"l":24230,"c":24720},{"i":608,"o":24490,"h":24498,"l":24332,"c":24380},{"i":609,"o":24390,"h":24599,"l":24240,"c":24480},{"i":610,"o":24380,"h":24396,"l":24147,"c":24180},{"i":611,"o":24190,"h":24212,"l":23999,"c":24050},{"i":612,"o":24070,"h":24332,"l":23999,"c":24120},{"i":613,"o":24110,"h":24378,"l":24046,"c":24190},{"i":614,"o":24140,"h":24147,"l":23889,"c":24010},{"i":615,"o":24020,"h":24138,"l":23880,"c":23920},{"i":616,"o":23740,"h":24286,"l":23723,"c":24210},{"i":617,"o":24000,"h":24396,"l":23981,"c":24030},{"i":618,"o":24020,"h":24396,"l":23999,"c":24390},{"i":619,"o":24660,"h":25152,"l":24645,"c":24660},{"i":620,"o":24680,"h":25014,"l":24655,"c":24920},{"i":621,"o":24500,"h":24507,"l":24286,"c":24420},{"i":622,"o":24340,"h":24350,"l":24166,"c":24280},{"i":623,"o":24180,"h":24193,"l":23917,"c":23950},{"i":624,"o":24020,"h":24239,"l":24009,"c":24030},{"i":625,"o":24180,"h":24470,"l":24166,"c":24290},{"i":626,"o":24270,"h":24286,"l":23825,"c":23880},{"i":627,"o":23850,"h":24424,"l":23806,"c":24310},{"i":628,"o":24300,"h":24691,"l":24286,"c":24360},{"i":629,"o":24350,"h":24608,"l":24276,"c":24520},{"i":630,"o":24540,"h":24876,"l":24525,"c":24810},{"i":631,"o":24700,"h":24931,"l":24691,"c":24880},{"i":632,"o":25100,"h":25429,"l":25070,"c":25200},{"i":633,"o":25210,"h":25383,"l":25180,"c":25350},{"i":634,"o":25330,"h":25392,"l":25106,"c":25120},{"i":635,"o":25130,"h":25245,"l":24968,"c":24990},{"i":636,"o":25070,"h":25180,"l":25060,"c":25150},{"i":637,"o":25120,"h":25346,"l":24904,"c":25150},{"i":638,"o":25140,"h":25226,"l":25024,"c":25050},{"i":639,"o":24960,"h":24968,"l":24765,"c":24800},{"i":640,"o":24780,"h":25014,"l":24765,"c":24960},{"i":641,"o":24940,"h":25014,"l":24756,"c":24770},{"i":642,"o":24730,"h":24738,"l":24424,"c":24450},{"i":643,"o":24450,"h":24811,"l":24415,"c":24790},{"i":644,"o":24320,"h":24507,"l":24046,"c":24060},{"i":645,"o":24080,"h":24323,"l":24074,"c":24200},{"i":646,"o":24430,"h":24738,"l":24415,"c":24600},{"i":647,"o":24900,"h":25070,"l":24885,"c":25000},{"i":648,"o":25010,"h":25106,"l":24830,"c":24840},{"i":649,"o":24780,"h":24931,"l":24765,"c":24900},{"i":650,"o":24860,"h":25042,"l":24839,"c":25000},{"i":651,"o":25010,"h":25162,"l":24904,"c":25050},{"i":652,"o":25060,"h":25162,"l":24913,"c":24920},{"i":653,"o":24930,"h":24978,"l":24738,"c":24800},{"i":654,"o":24810,"h":24904,"l":24581,"c":24600},{"i":655,"o":24800,"h":25088,"l":24784,"c":24910},{"i":656,"o":24670,"h":24858,"l":24655,"c":24700},{"i":657,"o":24700,"h":24747,"l":24553,"c":24600},{"i":658,"o":24800,"h":25014,"l":24793,"c":24980},{"i":659,"o":24900,"h":25088,"l":24885,"c":25050},{"i":660,"o":25040,"h":25651,"l":25024,"c":25640},{"i":661,"o":25700,"h":25807,"l":25669,"c":25760},{"i":662,"o":25700,"h":25891,"l":25687,"c":25790},{"i":663,"o":25790,"h":25798,"l":25466,"c":25480},{"i":664,"o":25180,"h":25273,"l":24830,"c":24850},{"i":665,"o":25000,"h":25116,"l":24876,"c":25100},{"i":666,"o":25000,"h":25199,"l":24968,"c":25000},{"i":667,"o":25010,"h":25134,"l":24876,"c":25110},{"i":668,"o":25100,"h":25199,"l":24876,"c":24930},{"i":669,"o":24900,"h":25060,"l":24784,"c":25040},{"i":670,"o":24950,"h":24996,"l":24701,"c":24720},{"i":671,"o":24700,"h":24839,"l":24655,"c":24780},{"i":672,"o":24760,"h":24968,"l":24738,"c":24890},{"i":673,"o":24900,"h":24996,"l":24830,"c":24980},{"i":674,"o":25000,"h":25263,"l":24904,"c":25000},{"i":675,"o":24980,"h":24996,"l":24691,"c":24720},{"i":676,"o":24830,"h":25097,"l":24811,"c":25080},{"i":677,"o":25480,"h":25558,"l":25346,"c":25400},{"i":678,"o":25420,"h":25549,"l":25309,"c":25450},{"i":679,"o":25450,"h":25558,"l":25337,"c":25430},{"i":680,"o":25420,"h":25641,"l":25309,"c":25560},{"i":681,"o":25570,"h":25891,"l":25549,"c":25880},{"i":682,"o":25880,"h":26084,"l":25863,"c":26060},{"i":683,"o":26080,"h":26259,"l":26075,"c":26202}
]},
"encoding":{
"x":{"field":"i","type":"quantitative","title":null,"scale":{"domain":[0,765.3],"nice":false,"zero":false},"axis":{"values":[28,71,111,153,198,242,281,322,364,406,450,495,534,575,616,659,702],"labelExpr":"{'28':'2024','71':'Mar','111':'Mayo','153':'Jul','198':'Sep','242':'Nov','281':'2025','322':'Mar','364':'Mayo','406':'Jul','450':'Sep','495':'Nov','534':'2026','575':'Mar','616':'Mayo','659':'Jul','702':'Sep'}[datum.value]","labelFontWeight":{"expr":"datum.value==28||datum.value==281||datum.value==534?'bold':'normal'"},"labelFont":"Inter","labelFontSize":17,"labelColor":"#b8b8b8","labelPadding":13,"ticks":false,"domain":false,"grid":false,"labelFlush":false,"labelBound":false}},
"y":{"field":"p","type":"quantitative","title":null,"scale":{"domain":[14804,27486],"nice":false,"zero":false},"axis":{"orient":"right","offset":-95,"values":[15200,15600,16000,16400,16800,17200,17600,18000,18400,18800,19200,19600,20000,20400,20800,21200,21600,22000,22400,22800,23200,23600,24000,24400,24800,25200,25600,26000,26400,26800,27200],"labelExpr":"floor(datum.value/1000)+'.'+format(datum.value%1000,'03d')+',00'","labelFontWeight":{"expr":"datum.value%2000==0?'bold':'normal'"},"labelFont":"Inter","labelFontSize":17.4,"labelColor":"#b8b8b8","labelPadding":2,"labelOverlap":false,"labelBound":false,"labelFlush":false,"ticks":false,"domain":false,"grid":false}}
},
"layer":[
{"data":{"name":"zone"},"mark":{"type":"rect","color":"#dde6fd"},"encoding":{"x2":{"field":"i2"},"y2":{"field":"p2"}}},
{"data":{"name":"range"},"mark":{"type":"rect","color":"#2962ff","opacity":0.17},"encoding":{"x2":{"field":"i2"},"y2":{"field":"p2"}}},
{"data":{"name":"circle"},"mark":{"type":"point","shape":"circle","filled":true,"color":"#2962ff","opacity":0.13,"size":27560,"strokeWidth":0}},
{"data":{"name":"borders"},"mark":{"type":"rule","color":"#2962ff","opacity":0.3,"strokeWidth":3},"encoding":{"x2":{"field":"i2"}}},
{"data":{"name":"supports"},"mark":{"type":"rule","color":"#2962ff","opacity":0.28,"strokeWidth":3},"encoding":{"x2":{"field":"i2"}}},
{"data":{"name":"mid"},"mark":{"type":"rule","color":"#ffffff","opacity":0.65,"strokeWidth":1.5,"strokeDash":[8,8]},"encoding":{"x2":{"field":"i2"}}},
{"data":{"name":"last"},"mark":{"type":"rule","color":"#131722","opacity":0.75,"strokeWidth":1,"strokeDash":[1,3]},"encoding":{"x2":{"field":"i2"}}},
{"data":{"name":"notes"},"mark":{"type":"text","align":"left","baseline":"middle","font":"Inter","fontWeight":"bold","fontSize":19.3,"color":"#2f4a82"},"encoding":{"text":{"field":"t"}}},
{"data":{"name":"head"},"mark":{"type":"text","align":"left","baseline":"middle","font":"Inter","fontSize":16.6,"color":"#b8b8b8"},"encoding":{"text":{"field":"t"}}},
{"data":{"name":"bars"},"mark":{"type":"rule","color":"#131722","strokeWidth":1},"encoding":{"y":{"field":"l","type":"quantitative"},"y2":{"field":"h"}}},
{"data":{"name":"bars"},"mark":{"type":"tick","orient":"horizontal","color":"#131722","size":2.5,"thickness":0.8,"xOffset":-1.3},"encoding":{"y":{"field":"o","type":"quantitative"}}},
{"data":{"name":"bars"},"mark":{"type":"tick","orient":"horizontal","color":"#131722","size":2.5,"thickness":0.8,"xOffset":1.3},"encoding":{"y":{"field":"c","type":"quantitative"}}},
{"data":{"name":"blacktags"},"mark":{"type":"rect","color":"#000000","cornerRadius":3},"encoding":{"x2":{"field":"i2"},"y2":{"field":"p2"}}},
{"data":{"name":"bluetags"},"mark":{"type":"rect","color":"#2962ff","cornerRadius":3},"encoding":{"x2":{"field":"i2"},"y2":{"field":"p2"}}},
{"data":{"name":"tagtext"},"mark":{"type":"text","align":"center","baseline":"middle","font":"Inter","fontSize":17,"color":"#ffffff"},"encoding":{"text":{"field":"t"}}}
]}
